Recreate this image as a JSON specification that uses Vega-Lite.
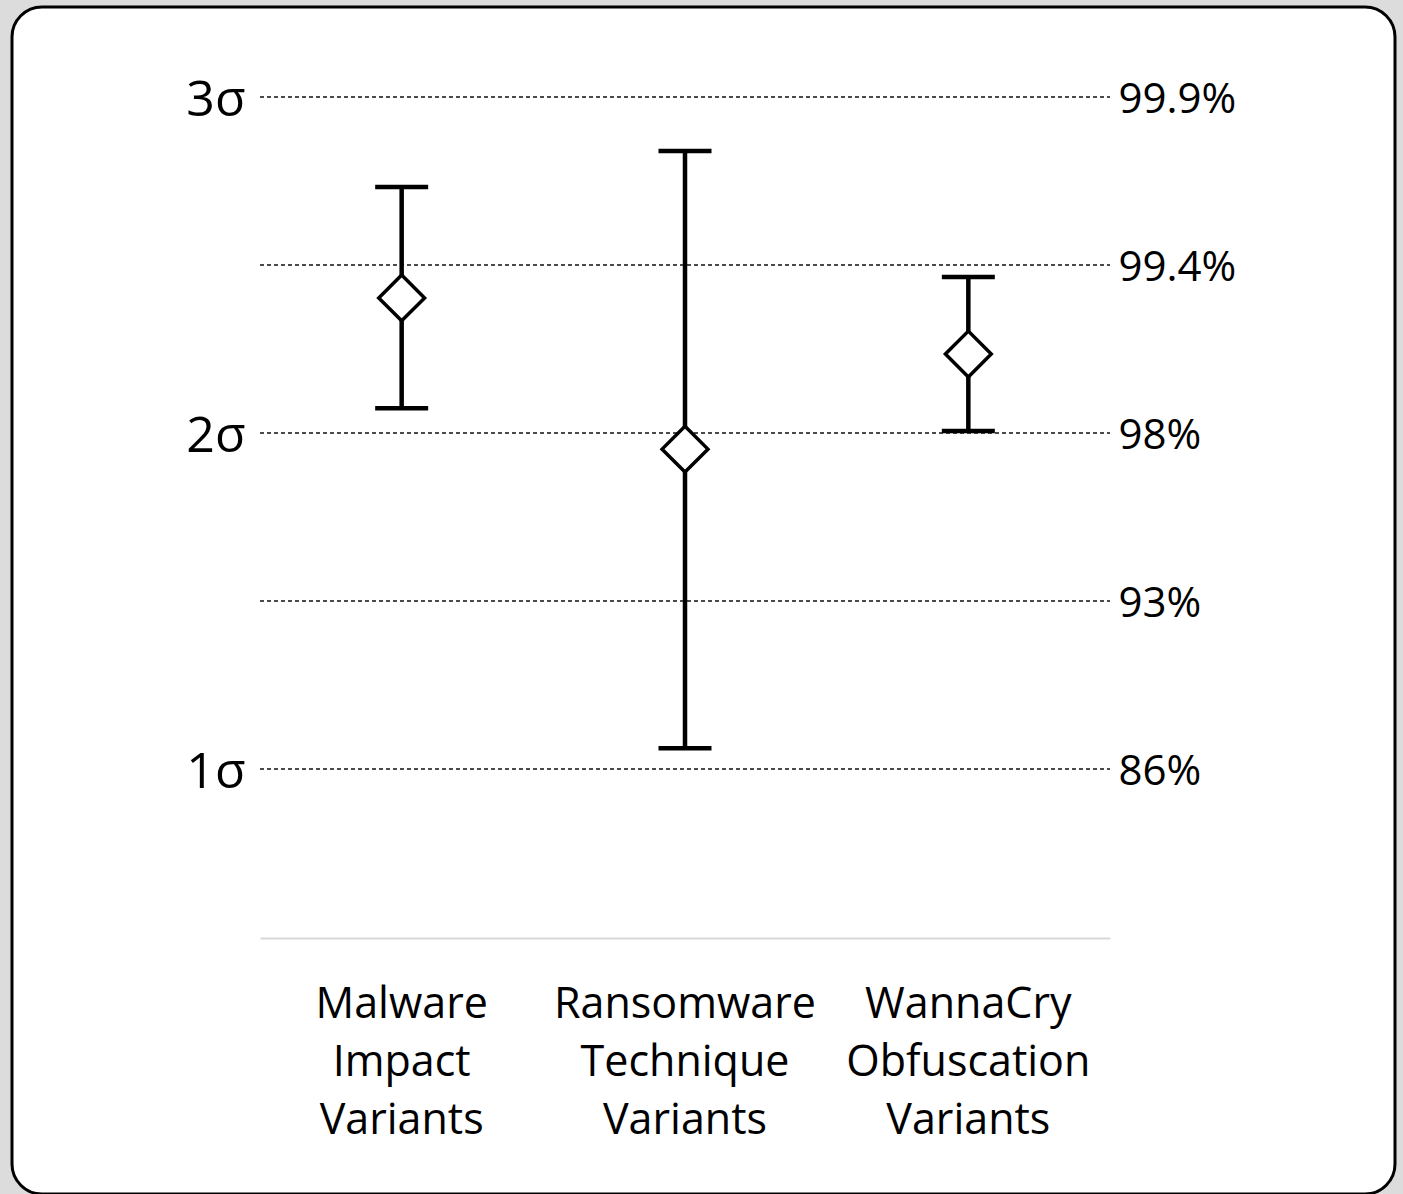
{
  "$schema": "https://vega.github.io/schema/vega-lite/v6.json",
  "width": 1383,
  "height": 1187,
  "autosize": {"type": "none"},
  "padding": {"left": 12, "top": 7, "right": 8, "bottom": 0},
  "background": "#dcdcdc",
  "config": {
    "view": {"fill": "white", "stroke": "black", "strokeWidth": 3, "cornerRadius": 30},
    "font": "Open Sans"
  },
  "datasets": {
    "stats": [
      {"cat": "Malware Impact Variants", "lo": 2.074, "hi": 2.732, "mean": 2.402},
      {"cat": "Ransomware Technique Variants", "lo": 1.062, "hi": 2.839, "mean": 1.952},
      {"cat": "WannaCry Obfuscation Variants", "lo": 2.006, "hi": 2.464, "mean": 2.235}
    ],
    "grid": [
      {"g": 1, "from": "Malware Impact Variants", "to": "WannaCry Obfuscation Variants"},
      {"g": 1.5, "from": "Malware Impact Variants", "to": "WannaCry Obfuscation Variants"},
      {"g": 2, "from": "Malware Impact Variants", "to": "WannaCry Obfuscation Variants"},
      {"g": 2.5, "from": "Malware Impact Variants", "to": "WannaCry Obfuscation Variants"},
      {"g": 3, "from": "Malware Impact Variants", "to": "WannaCry Obfuscation Variants"}
    ]
  },
  "layer": [
    {
      "data": {"name": "grid"},
      "mark": {"type": "rule", "strokeDash": [4, 3], "strokeWidth": 1.3, "color": "#111111"},
      "encoding": {
        "x": {
          "field": "from", "type": "nominal", "bandPosition": 0,
          "scale": {"type": "band", "domain": ["Malware Impact Variants", "Ransomware Technique Variants", "WannaCry Obfuscation Variants"], "range": [248, 1098], "paddingInner": 0, "paddingOuter": 0},
          "axis": {
            "orient": "bottom", "offset": -256, "title": null,
            "domainColor": "#d9d9d9", "domainWidth": 2,
            "ticks": false, "tickSize": 0, "grid": false,
            "labelAngle": 0, "labelPadding": 45, "labelFontSize": 43, "labelColor": "black",
            "labelLineHeight": 58, "labelLimit": 0,
            "labelExpr": "split(datum.label, ' ')"
          }
        },
        "x2": {"field": "to", "bandPosition": 1},
        "y": {
          "field": "g", "type": "quantitative",
          "scale": {"domain": [-0.2649, 3.2679], "nice": false, "zero": false},
          "axis": {
            "orient": "left", "offset": -248, "title": null,
            "domain": false, "ticks": false, "tickSize": 0, "grid": false,
            "values": [1, 2, 3],
            "labelExpr": "datum.value + 'σ'",
            "labelFontSize": 50, "labelPadding": 15, "labelOffset": 3, "labelColor": "black"
          }
        }
      }
    },
    {
      "data": {"name": "stats"},
      "mark": {"type": "rule", "strokeWidth": 4.5, "color": "black"},
      "encoding": {
        "x": {"field": "cat", "type": "nominal"},
        "y": {
          "field": "lo", "type": "quantitative",
          "axis": {
            "orient": "right", "offset": -285, "title": null,
            "domain": false, "ticks": false, "tickSize": 0, "grid": false,
            "values": [1, 1.5, 2, 2.5, 3],
            "labelExpr": "datum.value == 3 ? '99.9%' : datum.value == 2.5 ? '99.4%' : datum.value == 2 ? '98%' : datum.value == 1.5 ? '93%' : '86%'",
            "labelFontSize": 42, "labelPadding": 8, "labelOffset": 2, "labelColor": "black"
          }
        },
        "y2": {"field": "hi"}
      }
    },
    {
      "data": {"name": "stats"},
      "mark": {"type": "tick", "size": 53, "thickness": 4.5, "color": "black", "opacity": 1},
      "encoding": {
        "x": {"field": "cat", "type": "nominal"},
        "y": {"field": "hi", "type": "quantitative", "axis": null}
      }
    },
    {
      "data": {"name": "stats"},
      "mark": {"type": "tick", "size": 53, "thickness": 4.5, "color": "black", "opacity": 1},
      "encoding": {
        "x": {"field": "cat", "type": "nominal"},
        "y": {"field": "lo", "type": "quantitative", "axis": null}
      }
    },
    {
      "data": {"name": "stats"},
      "mark": {"type": "point", "shape": "diamond", "size": 2100, "filled": true, "fill": "white", "stroke": "black", "strokeWidth": 3.5, "opacity": 1},
      "encoding": {
        "x": {"field": "cat", "type": "nominal"},
        "y": {"field": "mean", "type": "quantitative", "axis": null}
      }
    }
  ],
  "resolve": {"axis": {"y": "independent"}}
}
